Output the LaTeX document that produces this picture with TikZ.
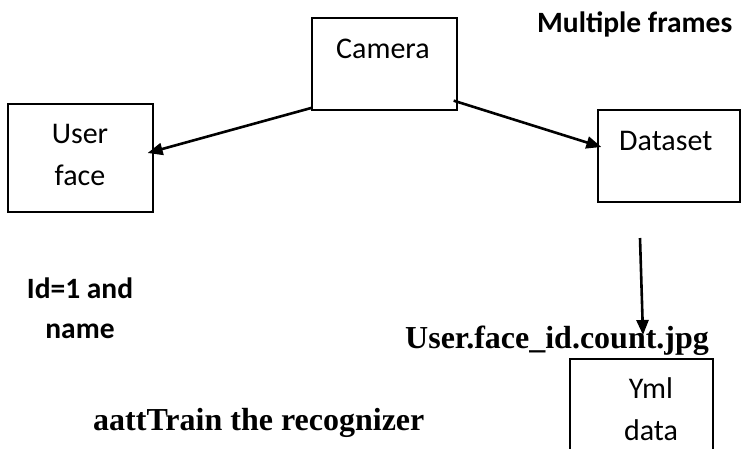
\documentclass[tikz,border=0pt]{standalone}
\usepackage{fontspec}
\setmainfont{Carlito}
\newfontfamily\timesfont{Liberation Serif}
\usetikzlibrary{arrows.meta}
\begin{document}
\begin{tikzpicture}[x=1pt, y=-1pt,
          box/.style = {draw, line width=1.3pt, inner sep=0pt},
          word/.style = {inner sep=0pt, align=center, font=\fontsize{30}{42}\selectfont},
          heading/.style = {inner sep=0pt, align=center, font=\fontsize{29.5}{40}\selectfont\bfseries},
          serif/.style = {inner sep=0pt, font=\fontsize{32}{36}\selectfont\timesfont\bfseries},
          flow/.style = {line width=2.6pt, -{Triangle[length=15pt, width=12pt]}}]
          \path[use as bounding box, clip] (0,0) rectangle (741,448);
          % the four boxes
          \node[box, minimum width=145pt, minimum height=92pt] (camera) at (384.5,64) {};
          \node[box, minimum width=145pt, minimum height=108pt] (userface) at (80.5,158) {};
          \node[box, minimum width=142pt, minimum height=92pt] (dataset) at (669,156) {};
          \node[box, minimum width=143pt, minimum height=110pt] (yml) at (641.5,414) {};
          % texts in the boxes (base = last line)
          \node[word, anchor=base west] (cameratext) at (336,58) {Camera};
          \node[word, anchor=base] (userfacetext) at (80,185) {User\\face};
          \node[word, anchor=base west] (datasettext) at (619,150) {Dataset};
          \node[word, anchor=base] (ymltext) at (651,440) {Yml\\data};
          % free texts
          \node[heading, anchor=base west] (frames) at (537,32) {Multiple frames};
          \node[heading, anchor=base] (idname) at (80,338) {Id=1 and\\name};
          \node[serif, anchor=base west] (jpg) at (405,348) {User.face\_id.count.jpg};
          \node[serif, anchor=base west] (train) at (93,430) {aattTrain the recognizer};
          % arrows
          \coordinate (split) at (640,238);
          \coordinate (count) at (643,335);
          \draw[flow] ([shift={(1pt,3pt)}]camera.south west) -- ([shift={(-6pt,5pt)}]userface.east);
          \draw[flow] ([shift={(-4pt,10pt)}]camera.south east) -- ([shift={(4pt,9pt)}]dataset.west);
          \draw[flow] (split) -- (count);
        \end{tikzpicture}
\end{document}
